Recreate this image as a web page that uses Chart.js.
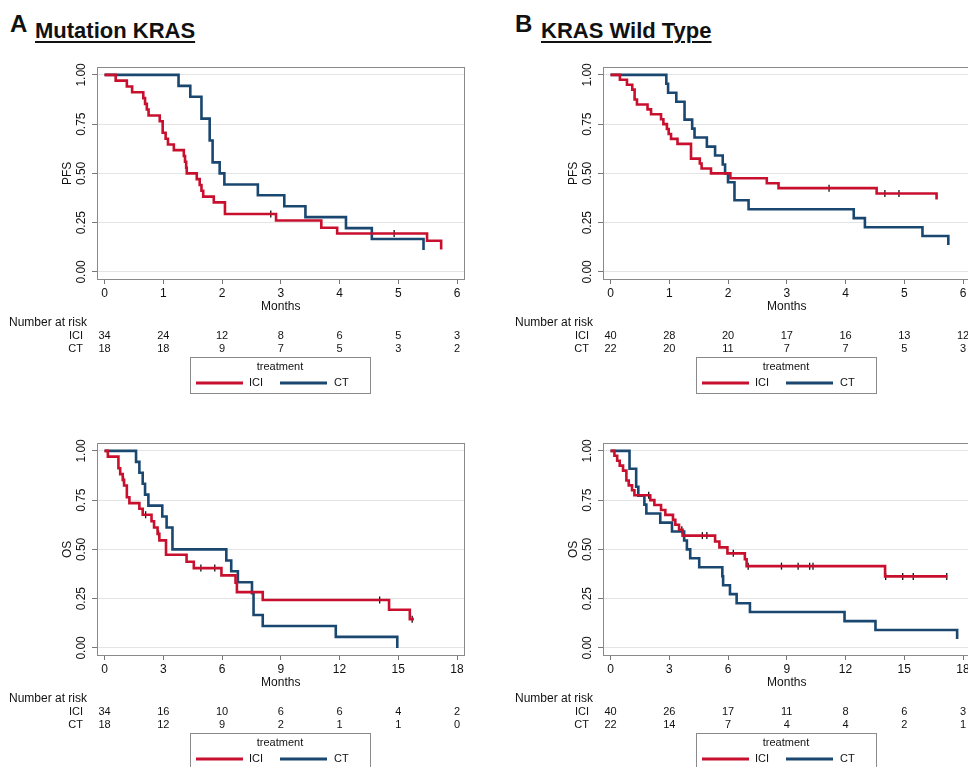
<!DOCTYPE html>
<html>
<head>
<meta charset="utf-8">
<script src="https://cdn.jsdelivr.net/npm/chart.js@4.4.1/dist/chart.umd.min.js"></script>
<style>
  body { margin: 0; width: 968px; height: 767px; overflow: hidden; background: #fff; position: relative;
         font-family: "Liberation Sans", Arial, sans-serif; color: #111; }
  canvas { position: absolute; }
  .letter { position: absolute; font-weight: bold; font-size: 24px; line-height: 24px; }
  .head { position: absolute; font-weight: bold; font-size: 22px; line-height: 22px;
          text-decoration: underline; text-decoration-thickness: 2px; text-underline-offset: 3px; }
</style>
</head>
<body>
<div class="letter" style="left:10px;top:12px">A</div>
<div class="head" style="left:35px;top:20px">Mutation KRAS</div>
<div class="letter" style="left:515px;top:12px">B</div>
<div class="head" style="left:541px;top:20px">KRAS Wild Type</div>

<canvas id="mutPfs" width="484" height="340" style="left:0;top:55px"></canvas>
<canvas id="wtPfs" width="484" height="340" style="left:506px;top:55px"></canvas>
<canvas id="mutOs" width="484" height="340" style="left:0;top:431px"></canvas>
<canvas id="wtOs" width="484" height="340" style="left:506px;top:431px"></canvas>

<script>
// time ticks (months) and y ticks
const monthsPFS = [0, 1, 2, 3, 4, 5, 6];
const monthsOS = [0, 3, 6, 9, 12, 15, 18];
const yTicks = [0, 0.25, 0.5, 0.75, 1];

// Mutation KRAS - PFS
const mutPfsIciT = [0, 0.19, 0.38, 0.47, 0.66, 0.69, 0.72, 0.75, 0.94, 0.99, 1.04, 1.08, 1.18, 1.35, 1.37, 1.39, 1.40, 1.57, 1.62, 1.65, 1.68, 1.86, 2.05, 2.92, 3.69, 3.96, 5.49, 5.73];
const mutPfsIciS = [1, 0.971, 0.941, 0.912, 0.882, 0.853, 0.824, 0.794, 0.765, 0.706, 0.676, 0.647, 0.618, 0.588, 0.559, 0.529, 0.50, 0.471, 0.441, 0.412, 0.382, 0.353, 0.294, 0.261, 0.224, 0.195, 0.158, 0.114];
const mutPfsCtT = [0, 1.26, 1.46, 1.65, 1.79, 1.84, 1.96, 2.04, 2.61, 3.06, 3.42, 4.11, 4.55, 5.43];
const mutPfsCtS = [1, 0.944, 0.889, 0.778, 0.667, 0.556, 0.5, 0.444, 0.389, 0.333, 0.278, 0.222, 0.167, 0.111];
const mutPfsCensT = [2.83, 4.93];
const mutPfsCensS = [0.294, 0.195];
const mutPfsRiskIci = [34, 24, 12, 8, 6, 5, 3];
const mutPfsRiskCt = [18, 18, 9, 7, 5, 3, 2];

// KRAS wild type - PFS
const wtPfsIciT = [0, 0.16, 0.28, 0.37, 0.41, 0.45, 0.63, 0.69, 0.86, 0.90, 0.96, 0.99, 1.03, 1.14, 1.37, 1.52, 1.55, 1.71, 2.04, 2.66, 2.86, 4.53, 5.55];
const wtPfsIciS = [1, 0.975, 0.95, 0.925, 0.875, 0.85, 0.825, 0.80, 0.775, 0.75, 0.725, 0.70, 0.675, 0.65, 0.575, 0.55, 0.525, 0.50, 0.475, 0.45, 0.425, 0.398, 0.367];
const wtPfsCtT = [0, 0.95, 0.98, 1.12, 1.26, 1.39, 1.43, 1.64, 1.78, 1.91, 1.95, 2.0, 2.11, 2.35, 4.14, 4.33, 5.31, 5.75];
const wtPfsCtS = [1, 0.955, 0.909, 0.864, 0.773, 0.727, 0.682, 0.636, 0.591, 0.545, 0.50, 0.455, 0.364, 0.318, 0.273, 0.227, 0.182, 0.136];
const wtPfsCensT = [3.72, 4.67, 4.91];
const wtPfsCensS = [0.425, 0.398, 0.398];
const wtPfsRiskIci = [40, 28, 20, 17, 16, 13, 12];
const wtPfsRiskCt = [22, 20, 11, 7, 7, 5, 3];

// Mutation KRAS - OS
const mutOsIciT = [0, 0.17, 0.71, 0.80, 0.93, 1.0, 1.14, 1.27, 1.78, 1.95, 2.4, 2.53, 2.71, 2.8, 3.14, 4.19, 4.56, 5.97, 6.69, 6.76, 8.08, 14.53, 15.59, 15.8];
const mutOsIciS = [1, 0.971, 0.912, 0.882, 0.853, 0.824, 0.765, 0.735, 0.706, 0.676, 0.643, 0.611, 0.579, 0.546, 0.473, 0.437, 0.405, 0.368, 0.331, 0.283, 0.243, 0.194, 0.146, 0.146];
const mutOsCtT = [0, 1.61, 1.78, 1.95, 2.07, 2.24, 2.95, 3.17, 3.47, 6.22, 6.47, 6.81, 7.53, 7.61, 8.08, 11.81, 14.95];
const mutOsCtS = [1, 0.944, 0.889, 0.833, 0.778, 0.722, 0.667, 0.611, 0.5, 0.444, 0.389, 0.333, 0.278, 0.167, 0.111, 0.056, 0];
const mutOsCensT = [0.97, 2.1, 2.76, 4.92, 5.63, 14.05, 15.71];
const mutOsCensS = [0.853, 0.676, 0.579, 0.405, 0.405, 0.243, 0.146];
const mutOsRiskIci = [34, 16, 10, 6, 6, 4, 2];
const mutOsRiskCt = [18, 12, 9, 2, 1, 1, 0];

// KRAS wild type - OS
const wtOsIciT = [0, 0.2, 0.34, 0.47, 0.64, 0.81, 0.93, 1.1, 1.22, 2.03, 2.24, 2.58, 2.8, 3.19, 3.31, 3.5, 3.68, 5.34, 5.56, 5.97, 6.86, 6.95, 14.02, 17.2];
const wtOsIciS = [1, 0.975, 0.95, 0.925, 0.90, 0.85, 0.825, 0.80, 0.775, 0.75, 0.725, 0.70, 0.675, 0.65, 0.625, 0.60, 0.57, 0.54, 0.51, 0.48, 0.45, 0.415, 0.363, 0.363];
const wtOsCtT = [0, 0.97, 1.31, 1.42, 1.73, 1.83, 2.54, 3.14, 3.76, 3.9, 4.07, 4.53, 5.71, 5.75, 6.1, 6.44, 7.12, 11.95, 13.53, 17.7];
const wtOsCtS = [1, 0.909, 0.818, 0.773, 0.727, 0.682, 0.636, 0.591, 0.545, 0.50, 0.455, 0.409, 0.364, 0.318, 0.273, 0.227, 0.182, 0.136, 0.091, 0.045];
const wtOsCensT = [1.95, 3.64, 4.69, 4.92, 6.27, 7.03, 8.73, 9.58, 10.17, 10.34, 14.05, 14.92, 15.46, 17.17];
const wtOsCensS = [0.775, 0.60, 0.57, 0.57, 0.48, 0.415, 0.415, 0.415, 0.415, 0.415, 0.363, 0.363, 0.363, 0.363];
const wtOsRiskIci = [40, 26, 17, 11, 8, 6, 3];
const wtOsRiskCt = [22, 14, 7, 4, 4, 2, 1];

const RED = '#c8102e';
const BLUE = '#1a476f';
const FONT = '"Liberation Sans", Arial, sans-serif';

Chart.defaults.font.family = FONT;

const pts = (t, s) => t.map((x, i) => ({ x: x, y: s[i] }));

// axis labels, risk table and legend box (Stata style)
const kmExtras = {
  id: 'kmExtras',
  afterDraw(chart, args, o) {
    const { ctx, chartArea: a } = chart;
    const x = chart.scales.x, y = chart.scales.y;
    ctx.save();
    ctx.strokeStyle = '#8a8a8a';
    ctx.lineWidth = 1;
    ctx.strokeRect(a.left + 0.5, a.top + 0.5, a.right - a.left, a.bottom - a.top);

    ctx.fillStyle = '#111';
    ctx.textAlign = 'center';
    ctx.textBaseline = 'middle';
    ctx.font = '12px ' + FONT;
    yTicks.forEach(v => {
      ctx.save();
      ctx.translate(82, y.getPixelForValue(v));
      ctx.rotate(-Math.PI / 2);
      ctx.fillText(v.toFixed(2), 0, 0);
      ctx.restore();
    });
    ctx.save();
    ctx.translate(68, y.getPixelForValue(0.5));
    ctx.rotate(-Math.PI / 2);
    ctx.fillText(o.yTitle, 0, 0);
    ctx.restore();

    ctx.fillText('Months', x.getPixelForValue(o.ticks[3]), 251.5);

    // number at risk
    ctx.textAlign = 'left';
    ctx.fillText('Number at risk', 9, 267.5);
    ctx.font = '11px ' + FONT;
    ctx.textAlign = 'right';
    ctx.fillText('ICI', 83, 281);
    ctx.fillText('CT', 83, 294);
    ctx.textAlign = 'center';
    o.ticks.forEach((t, i) => {
      const px = x.getPixelForValue(t);
      ctx.fillText(String(o.riskIci[i]), px, 281);
      ctx.fillText(String(o.riskCt[i]), px, 294);
    });

    // legend
    ctx.strokeStyle = '#8a8a8a';
    ctx.strokeRect(190.5, 302.5, 180, 36);
    ctx.fillText('treatment', 280, 312);
    ctx.lineWidth = 3;
    ctx.strokeStyle = RED;
    ctx.beginPath(); ctx.moveTo(196, 328); ctx.lineTo(243, 328); ctx.stroke();
    ctx.strokeStyle = BLUE;
    ctx.beginPath(); ctx.moveTo(280, 328); ctx.lineTo(327, 328); ctx.stroke();
    ctx.textAlign = 'left';
    ctx.fillText('ICI', 249, 328);
    ctx.fillText('CT', 334, 328);
    ctx.restore();
  }
};

function kmChart(id, ticks, yTitle, iciT, iciS, ctT, ctS, censT, censS, riskIci, riskCt) {
  const unit = ticks[1];
  new Chart(document.getElementById(id), {
    type: 'line',
    data: {
      datasets: [
        { label: 'ICI', data: pts(iciT, iciS), borderColor: RED, borderWidth: 2.6, stepped: 'before',
          pointRadius: 0, fill: false, borderJoinStyle: 'miter' },
        { label: 'CT', data: pts(ctT, ctS), borderColor: BLUE, borderWidth: 2.6, stepped: 'before',
          pointRadius: 0, fill: false, borderJoinStyle: 'miter' },
        { label: 'censored', data: pts(censT, censS), showLine: false, pointStyle: 'line',
          pointRotation: 90, pointRadius: 3.5, pointBorderColor: '#111', pointBorderWidth: 1.3 }
      ]
    },
    options: {
      responsive: false,
      animation: false,
      devicePixelRatio: 1,
      layout: { padding: { left: 0, right: 20, top: 12, bottom: 76 } },
      scales: {
        x: {
          type: 'linear',
          min: -0.128 * unit,
          max: ticks[ticks.length - 1] + 0.119 * unit,
          afterBuildTicks: s => { s.ticks = ticks.map(v => ({ value: v })); },
          afterFit: s => { s.height = 40; },
          grid: { drawOnChartArea: false, tickLength: 5, tickColor: '#777' },
          border: { color: '#777' },
          ticks: { color: '#111', font: { size: 12 }, padding: 2, maxRotation: 0, autoSkip: false }
        },
        y: {
          min: -0.036,
          max: 1.04,
          afterBuildTicks: s => { s.ticks = yTicks.map(v => ({ value: v })); },
          afterFit: s => { s.width = 97; },
          grid: { color: '#e4e4e4', tickLength: 5, tickColor: '#777' },
          border: { color: '#777' },
          ticks: { display: false }
        }
      },
      plugins: {
        legend: { display: false },
        tooltip: { enabled: false },
        kmExtras: { yTitle: yTitle, ticks: ticks, riskIci: riskIci, riskCt: riskCt }
      }
    },
    plugins: [kmExtras]
  });
}

kmChart('mutPfs', monthsPFS, 'PFS', mutPfsIciT, mutPfsIciS, mutPfsCtT, mutPfsCtS, mutPfsCensT, mutPfsCensS, mutPfsRiskIci, mutPfsRiskCt);
kmChart('wtPfs', monthsPFS, 'PFS', wtPfsIciT, wtPfsIciS, wtPfsCtT, wtPfsCtS, wtPfsCensT, wtPfsCensS, wtPfsRiskIci, wtPfsRiskCt);
kmChart('mutOs', monthsOS, 'OS', mutOsIciT, mutOsIciS, mutOsCtT, mutOsCtS, mutOsCensT, mutOsCensS, mutOsRiskIci, mutOsRiskCt);
kmChart('wtOs', monthsOS, 'OS', wtOsIciT, wtOsIciS, wtOsCtT, wtOsCtS, wtOsCensT, wtOsCensS, wtOsRiskIci, wtOsRiskCt);
</script>
</body>
</html>
